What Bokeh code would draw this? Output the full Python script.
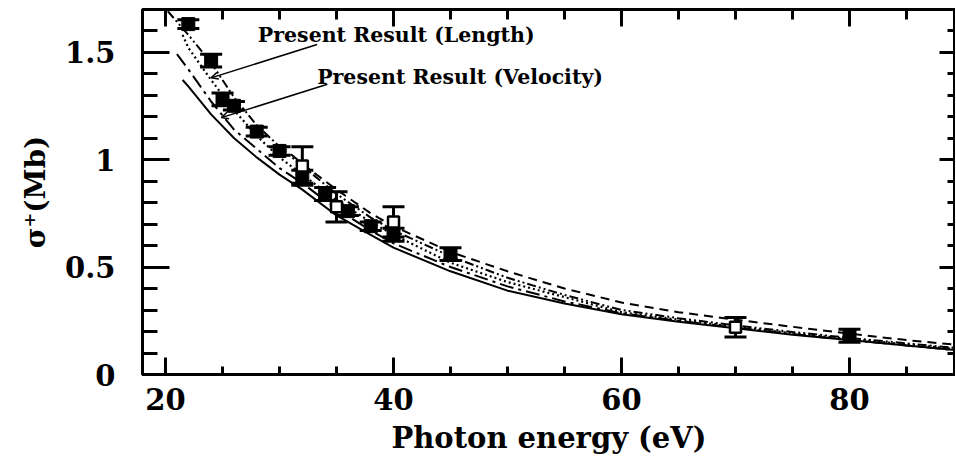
from bokeh.plotting import figure
from bokeh.models import (Range1d, LinearAxis, SingleIntervalTicker, Whisker, TeeHead,
                          ColumnDataSource, Label, Arrow, OpenHead, CustomJSTickFormatter)
from bokeh.embed import file_html
from bokeh.resources import INLINE

# ---- data ----
# experimental points (filled squares)
exp1_x = [22, 24, 25, 26, 28, 30, 32, 34, 36, 38, 40, 45, 80]
exp1_y = [1.63, 1.46, 1.28, 1.25, 1.13, 1.04, 0.92, 0.84, 0.76, 0.69, 0.65, 0.56, 0.18]
exp1_e = [0.02, 0.03, 0.03, 0.02, 0.02, 0.02, 0.03, 0.03, 0.02, 0.02, 0.03, 0.03, 0.03]
# experimental points (open squares)
exp2_x = [32, 35, 40, 70]
exp2_y = [0.97, 0.78, 0.71, 0.22]
exp2_e = [0.09, 0.07, 0.07, 0.045]

# theory curves
solid_x = [21.5, 22, 24, 26, 28, 30, 32, 35, 38, 40, 45, 50, 55, 60, 65, 70, 75, 80, 85, 90]
solid_y = [1.37, 1.34, 1.21, 1.10, 1.01, 0.93, 0.86, 0.74, 0.65, 0.59, 0.48, 0.39, 0.33, 0.28, 0.245, 0.215, 0.185, 0.16, 0.135, 0.11]
vel_x = [21, 22, 24, 26, 28, 30, 32, 35, 38, 40, 45, 50, 55, 60, 65, 70, 75, 80, 85, 90]
vel_y = [1.49, 1.42, 1.27, 1.14, 1.05, 0.96, 0.89, 0.77, 0.67, 0.61, 0.50, 0.41, 0.34, 0.285, 0.25, 0.218, 0.188, 0.16, 0.135, 0.11]
len_x = [21.5, 22, 24, 26, 28, 30, 32, 35, 38, 40, 45, 50, 55, 60, 65, 70, 75, 80, 85, 90]
len_y = [1.58, 1.52, 1.37, 1.23, 1.11, 1.01, 0.93, 0.81, 0.71, 0.65, 0.52, 0.43, 0.36, 0.29, 0.255, 0.222, 0.192, 0.165, 0.14, 0.115]
ddot_x = [20.2, 22, 24, 26, 28, 30, 32, 35, 38, 40, 45, 50, 55, 60, 65, 70, 75, 80, 85, 90]
ddot_y = [1.69, 1.58, 1.45, 1.29, 1.16, 1.06, 0.97, 0.84, 0.73, 0.67, 0.55, 0.45, 0.37, 0.30, 0.262, 0.228, 0.198, 0.17, 0.145, 0.12]
dash_x = [30, 32, 35, 38, 40, 45, 50, 55, 60, 65, 70, 75, 80, 85, 90]
dash_y = [1.07, 0.98, 0.86, 0.75, 0.69, 0.57, 0.48, 0.40, 0.335, 0.29, 0.255, 0.222, 0.19, 0.16, 0.135]

x_ticks_major = 20
y_ticks_major = 0.5
y_labels = {0: "0", 0.5: "0.5", 1: "1", 1.5: "1.5"}

# annotation anchors (data coords)
lab1 = dict(x=28.1, y=1.58, text="Present Result (Length)")
lab2 = dict(x=33.3, y=1.385, text="Present Result (Velocity)")
arr1 = dict(x_start=33.3, y_start=1.535, x_end=24.0, y_end=1.38)
arr2 = dict(x_start=34.2, y_start=1.35, x_end=24.9, y_end=1.195)

SERIF = "DejaVu Serif"

p = figure(frame_width=813, frame_height=365, output_backend="svg", toolbar_location=None,
           x_range=Range1d(17.98, 89.3), y_range=Range1d(0, 1.698),
           min_border_left=142, min_border_right=0, min_border_top=9, min_border_bottom=89)
p.xgrid.visible = False
p.ygrid.visible = False
p.outline_line_color = "black"
p.outline_line_width = 3
p.background_fill_color = "white"
p.border_fill_color = "white"

# axes
xa = p.xaxis[0]
xa.ticker = SingleIntervalTicker(interval=x_ticks_major, num_minor_ticks=4)
ya = p.yaxis[0]
ya.ticker = SingleIntervalTicker(interval=y_ticks_major, num_minor_ticks=5)
ya.major_label_overrides = y_labels

for ax, maj, mnr in ((xa, 17, 8), (ya, 27, 15)):
    ax.axis_line_width = 3
    ax.major_tick_line_width = 3
    ax.minor_tick_line_width = 3
    ax.major_tick_in = maj
    ax.major_tick_out = 0
    ax.minor_tick_in = mnr
    ax.minor_tick_out = 0
    ax.major_label_text_font = SERIF
    ax.major_label_text_font_style = "bold"
    ax.major_label_text_font_size = "29px"
    ax.major_label_text_color = "black"
    ax.axis_label_text_font = SERIF
    ax.axis_label_text_font_style = "bold"
    ax.axis_label_text_font_size = "29px"
    ax.axis_label_text_color = "black"

xa.axis_label = "Photon energy (eV)"
xa.major_label_standoff = 13
xa.axis_label_standoff = 8
ya.axis_label = "σ⁺(Mb)"
ya.axis_label_text_font_size = "28px"
ya.major_label_standoff = 27
ya.axis_label_standoff = 10

blank = CustomJSTickFormatter(code="return ''")
top = LinearAxis(ticker=SingleIntervalTicker(interval=x_ticks_major, num_minor_ticks=4), formatter=blank)
right = LinearAxis(ticker=SingleIntervalTicker(interval=y_ticks_major, num_minor_ticks=5), formatter=blank)
for ax, maj, mnr in ((top, 17, 10), (right, 16, 8)):
    ax.axis_line_width = 3
    ax.major_tick_line_width = 3
    ax.minor_tick_line_width = 3
    ax.major_tick_in = maj
    ax.major_tick_out = 0
    ax.minor_tick_in = mnr
    ax.minor_tick_out = 0
    ax.major_label_standoff = 0
p.add_layout(top, "above")
p.add_layout(right, "right")

# curves
p.line(solid_x, solid_y, line_color="black", line_width=2)
p.line(vel_x, vel_y, line_color="black", line_width=2, line_dash="14 5 3 5")
p.line(len_x, len_y, line_color="black", line_width=2.2, line_dash="2 3")
p.line(ddot_x, ddot_y, line_color="black", line_width=2, line_dash="9 3 2 3 2 3")
p.line(dash_x, dash_y, line_color="black", line_width=2, line_dash="9 6")

# error bars and points
s1 = ColumnDataSource(dict(x=exp1_x, y=exp1_y,
                           lo=[a - b for a, b in zip(exp1_y, exp1_e)],
                           hi=[a + b for a, b in zip(exp1_y, exp1_e)]))
s2 = ColumnDataSource(dict(x=exp2_x, y=exp2_y,
                           lo=[a - b for a, b in zip(exp2_y, exp2_e)],
                           hi=[a + b for a, b in zip(exp2_y, exp2_e)]))
for s in (s1, s2):
    w = Whisker(source=s, base="x", lower="lo", upper="hi", line_color="black", line_width=3,
                upper_head=TeeHead(size=22, line_width=3, line_color="black"),
                lower_head=TeeHead(size=22, line_width=3, line_color="black"))
    p.add_layout(w)
p.scatter("x", "y", source=s1, marker="square", size=13, fill_color="black", line_color="black")
p.scatter("x", "y", source=s2, marker="square", size=11, fill_color="white", line_color="black", line_width=2.5)

# annotations
for lab in (lab1, lab2):
    p.add_layout(Label(x=lab["x"], y=lab["y"], text=lab["text"], text_font=SERIF,
                       text_font_style="bold", text_font_size="20.5px", text_color="black",
                       text_baseline="middle", text_align="left"))
for a in (arr1, arr2):
    p.add_layout(Arrow(end=OpenHead(size=7, line_width=1.5, line_color="black"),
                       line_color="black", line_width=1.5, **a))

open("out.html", "w").write(file_html(p, INLINE))
